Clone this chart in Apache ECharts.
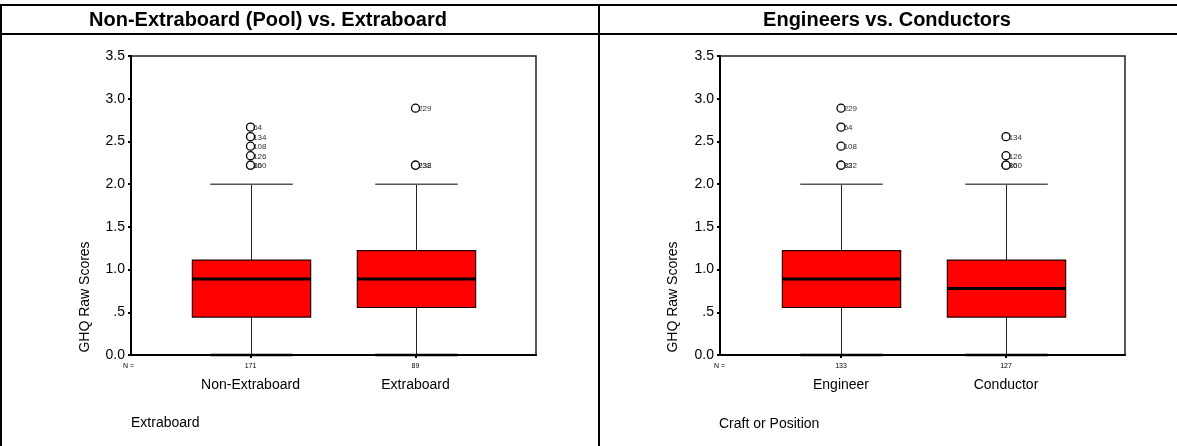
<!DOCTYPE html>
<html>
<head>
<meta charset="utf-8">
<script src="https://cdn.jsdelivr.net/npm/echarts@6/dist/echarts.min.js"></script>
<style>
html,body{margin:0;padding:0;background:#fff;}
#chart{width:1177px;height:446px;}
</style>
</head>
<body>
<div id="chart"></div>
<script>
// ---------- DATA ----------
const titleA = 'Non-Extraboard (Pool) vs. Extraboard';
const titleB = 'Engineers vs. Conductors';
const groupVarA = 'Extraboard';
const groupVarB = 'Craft or Position';
const yName = 'GHQ Raw Scores';

const categoriesA = ['Non-Extraboard', 'Extraboard'];
const countsA = [171, 89];
// [min whisker, Q1, median, Q3, max whisker]
const statsA = [
  [0.0, 0.444, 0.889, 1.111, 2.0],
  [0.0, 0.556, 0.889, 1.222, 2.0]
];
// [category index, value, case label]
const outliersA = [
  [0, 2.667, '64'], [0, 2.556, '134'], [0, 2.444, '108'], [0, 2.333, '126'],
  [0, 2.222, '160'], [0, 2.222, '80'],
  [1, 2.889, '229'], [1, 2.222, '232'], [1, 2.222, '238']
];

const categoriesB = ['Engineer', 'Conductor'];
const countsB = [133, 127];
const statsB = [
  [0.0, 0.556, 0.889, 1.222, 2.0],
  [0.0, 0.444, 0.778, 1.111, 2.0]
];
const outliersB = [
  [0, 2.889, '229'], [0, 2.667, '64'], [0, 2.444, '108'],
  [0, 2.222, '232'], [0, 2.222, '82'],
  [1, 2.556, '134'], [1, 2.333, '126'], [1, 2.222, '160'], [1, 2.222, '80']
];

const yTicks = [0, 0.5, 1.0, 1.5, 2.0, 2.5, 3.0, 3.5];

// ---------- CHART ----------
const FONT = '"Liberation Sans", Arial, Helvetica, sans-serif';
const chart = echarts.init(document.getElementById('chart'), null, {renderer: 'canvas'});

function yLabel(v) {
  if (Math.abs(v - 0.5) < 1e-9) return '.5';
  return v.toFixed(1);
}

function renderBox(params, api) {
  const x = api.value(0);
  const lo = api.coord([x, api.value(1)]);
  const q1 = api.coord([x, api.value(2)]);
  const md = api.coord([x, api.value(3)]);
  const q3 = api.coord([x, api.value(4)]);
  const hi = api.coord([x, api.value(5)]);
  const band = api.size([1, 0])[0];
  const bw = band * 0.717;
  const cw = band * 0.5;
  const cx = Math.round(lo[0]) + 0.5;
  return {
    type: 'group',
    children: [
      {type: 'line', shape: {x1: cx, y1: lo[1], x2: cx, y2: q1[1]}, style: {stroke: '#222', lineWidth: 1}},
      {type: 'line', shape: {x1: cx, y1: q3[1], x2: cx, y2: hi[1]}, style: {stroke: '#222', lineWidth: 1}},
      {type: 'line', shape: {x1: cx - cw / 2, y1: hi[1], x2: cx + cw / 2, y2: hi[1]}, style: {stroke: '#555', lineWidth: 1.5}},
      {type: 'line', shape: {x1: cx - cw / 2, y1: lo[1], x2: cx + cw / 2, y2: lo[1]}, style: {stroke: '#000', lineWidth: 2.5}},
      {type: 'rect', shape: {x: cx - bw / 2, y: q3[1], width: bw, height: q1[1] - q3[1]},
        style: {fill: '#ff0000', stroke: '#200000', lineWidth: 1.2}},
      {type: 'line', shape: {x1: cx - bw / 2, y1: md[1], x2: cx + bw / 2, y2: md[1]}, style: {stroke: '#000', lineWidth: 3}}
    ]
  };
}

function boxData(stats) {
  return stats.map((s, i) => [i].concat(s));
}

function panel(gi, frameLeft, boxLeft, cats, counts) {
  const top = 56, height = 299;
  const grids = [
    {left: frameLeft, top: top, width: 405, height: height, show: true, borderColor: '#222', borderWidth: 1.5, backgroundColor: 'transparent'},
    {left: boxLeft, top: top, width: 330, height: height}
  ];
  const xAxes = [
    {gridIndex: gi, type: 'value', min: 0, max: 1,
      axisLine: {show: true, lineStyle: {color: '#000', width: 2}},
      axisTick: {show: false}, axisLabel: {show: false}, splitLine: {show: false}},
    {gridIndex: gi + 1, type: 'category', data: cats,
      axisLine: {show: false},
      axisTick: {show: true, alignWithLabel: true, length: 3, lineStyle: {color: '#000', width: 2}},
      axisLabel: {
        margin: 6,
        interval: 0,
        formatter: (v, i) => '{n|' + counts[i] + '}\n{c|' + v + '}',
        rich: {
          n: {fontSize: 7, lineHeight: 10, color: '#000', fontFamily: FONT},
          c: {fontSize: 14, lineHeight: 28, color: '#000', fontFamily: FONT}
        }
      },
      splitLine: {show: false}}
  ];
  const yAxes = [
    {gridIndex: gi, type: 'value', min: 0, max: 3.5, interval: 0.5,
      axisLine: {show: true, lineStyle: {color: '#000', width: 2}},
      axisTick: {show: true, length: 3, lineStyle: {color: '#000', width: 2}},
      axisLabel: {margin: 6, fontSize: 14, color: '#000', fontFamily: FONT, formatter: yLabel},
      splitLine: {show: false}},
    {gridIndex: gi + 1, type: 'value', min: 0, max: 3.5, show: false, splitLine: {show: false}}
  ];
  return {grids, xAxes, yAxes};
}

const pA = panel(0, 131, 168, categoriesA, countsA);
const pB = panel(2, 720, 758.5, categoriesB, countsB);

function outlierSeries(idx, data) {
  return {
    type: 'scatter', xAxisIndex: idx, yAxisIndex: idx, z: 5,
    data: data,
    symbol: 'circle', symbolSize: 8,
    itemStyle: {color: '#fff', borderColor: '#000', borderWidth: 1.3, opacity: 1},
    label: {show: true, position: 'right', distance: 0, offset: [-2, 1],
      formatter: p => p.data[2], fontSize: 8, color: '#333', fontFamily: FONT},
    emphasis: {disabled: true},
    silent: true
  };
}

function txt(text, x, y, font, align) {
  return {
    type: 'text', x: x, y: y, silent: true,
    style: {text: text, fill: '#000', font: font, textAlign: align || 'left', textVerticalAlign: 'middle'}
  };
}
function hline(x1, y1, x2, y2, w) {
  return {type: 'line', silent: true, shape: {x1, y1, x2, y2}, style: {stroke: '#000', lineWidth: w}};
}

const yNameA = txt(yName, 85, 297, '14px ' + FONT, 'center');
yNameA.rotation = Math.PI / 2;
const yNameB = txt(yName, 673, 297, '14px ' + FONT, 'center');
yNameB.rotation = Math.PI / 2;

const option = {
  animation: false,
  backgroundColor: '#fff',
  grid: pA.grids.concat(pB.grids),
  xAxis: pA.xAxes.concat(pB.xAxes),
  yAxis: pA.yAxes.concat(pB.yAxes),
  series: [
    {type: 'custom', xAxisIndex: 1, yAxisIndex: 1, renderItem: renderBox, data: boxData(statsA),
      encode: {x: 0, y: [1, 2, 3, 4, 5]}, silent: true, z: 3},
    outlierSeries(1, outliersA),
    {type: 'custom', xAxisIndex: 3, yAxisIndex: 3, renderItem: renderBox, data: boxData(statsB),
      encode: {x: 0, y: [1, 2, 3, 4, 5]}, silent: true, z: 3},
    outlierSeries(3, outliersB)
  ],
  graphic: [
    hline(0, 5, 1177, 5, 2),
    hline(0, 34, 1177, 34, 2),
    hline(599, 5, 599, 446, 2),
    hline(1, 5, 1, 446, 2),
    txt(titleA, 268, 20, 'bold 20px ' + FONT, 'center'),
    txt(titleB, 887, 20, 'bold 20px ' + FONT, 'center'),
    yNameA,
    yNameB,
    txt('N =', 123, 366, '7px ' + FONT),
    txt('N =', 714, 366, '7px ' + FONT),
    txt(groupVarA, 131, 423, '14px ' + FONT),
    txt(groupVarB, 719, 424, '14px ' + FONT)
  ]
};
chart.setOption(option);
</script>
</body>
</html>
